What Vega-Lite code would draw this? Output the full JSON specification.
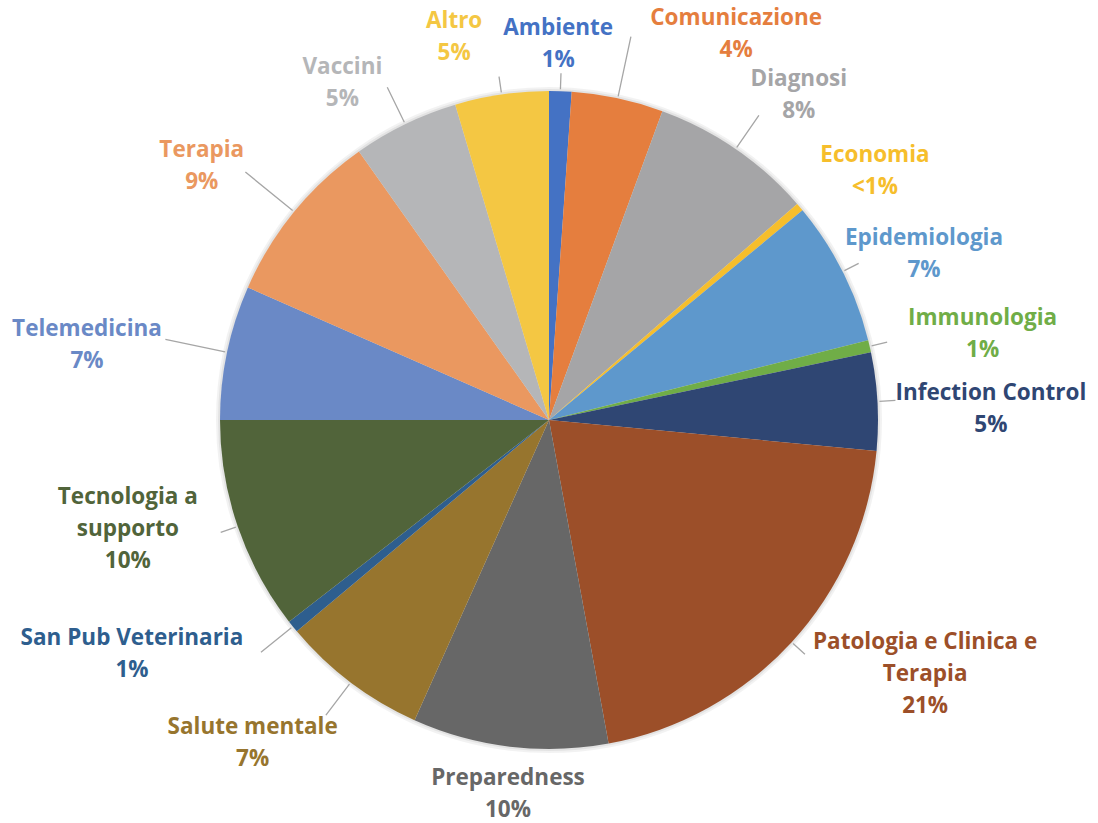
{
  "$schema": "https://vega.github.io/schema/vega-lite/v6.json",
  "width": 1098,
  "height": 806,
  "autosize": "none",
  "padding": {"top": 17, "bottom": 0, "left": 0, "right": 0},
  "background": "white",
  "config": {
    "view": {"stroke": null},
    "text": {"font": "Open Sans", "fontWeight": "bold", "fontSize": 22.5, "lineBreak": "\n", "lineHeight": 32, "align": "center", "baseline": "middle", "dy": -16}
  },
  "data": {
    "values": [
      {"rank": 1, "category": "Ambiente", "share": 1.1, "label": "Ambiente\n1%"},
      {"rank": 2, "category": "Comunicazione", "share": 4.5, "label": "Comunicazione\n4%"},
      {"rank": 3, "category": "Diagnosi", "share": 8.0, "label": "Diagnosi\n8%"},
      {"rank": 4, "category": "Economia", "share": 0.4, "label": "Economia\n<1%"},
      {"rank": 5, "category": "Epidemiologia", "share": 7.1, "label": "Epidemiologia\n7%"},
      {"rank": 6, "category": "Immunologia", "share": 0.6, "label": "Immunologia\n1%"},
      {"rank": 7, "category": "Infection Control", "share": 4.8, "label": "Infection Control\n5%"},
      {"rank": 8, "category": "Patologia e Clinica e Terapia", "share": 20.6, "label": "Patologia e Clinica e\nTerapia\n21%"},
      {"rank": 9, "category": "Preparedness", "share": 9.6, "label": "Preparedness\n10%"},
      {"rank": 10, "category": "Salute mentale", "share": 7.2, "label": "Salute mentale\n7%"},
      {"rank": 11, "category": "San Pub Veterinaria", "share": 0.6, "label": "San Pub Veterinaria\n1%"},
      {"rank": 12, "category": "Tecnologia a supporto", "share": 10.5, "label": "Tecnologia a\nsupporto\n10%"},
      {"rank": 13, "category": "Telemedicina", "share": 6.6, "label": "Telemedicina\n7%"},
      {"rank": 14, "category": "Terapia", "share": 8.6, "label": "Terapia\n9%"},
      {"rank": 15, "category": "Vaccini", "share": 5.2, "label": "Vaccini\n5%"},
      {"rank": 16, "category": "Altro", "share": 4.6, "label": "Altro\n5%"}
    ]
  },
  "encoding": {
    "theta": {"field": "share", "type": "quantitative", "stack": true},
    "order": {"field": "rank", "type": "quantitative"},
    "detail": {"field": "category", "type": "nominal"}
  },
  "layer": [
    {"mark": {"type": "arc", "outerRadius": 333, "fill": "#000000", "fillOpacity": 0.05}},
    {"mark": {"type": "arc", "outerRadius": 331, "fill": "#000000", "fillOpacity": 0.06}},
    {
      "mark": {"type": "arc", "outerRadius": 329},
      "encoding": {
        "color": {
          "field": "category",
          "type": "nominal",
          "legend": null,
          "scale": {
            "domain": ["Ambiente", "Comunicazione", "Diagnosi", "Economia", "Epidemiologia", "Immunologia", "Infection Control", "Patologia e Clinica e Terapia", "Preparedness", "Salute mentale", "San Pub Veterinaria", "Tecnologia a supporto", "Telemedicina", "Terapia", "Vaccini", "Altro"],
            "range": ["#4472C4", "#E57E3E", "#A5A5A7", "#F6BE2C", "#5E98CC", "#70AD47", "#2F4673", "#9C4F29", "#676767", "#97752E", "#2E5E8E", "#51643A", "#6A89C6", "#EA9860", "#B5B6B8", "#F4C743"]
          }
        }
      }
    },
    {
      "mark": {"type": "arc", "innerRadius": 331, "outerRadius": 347, "padAngle": 3, "stroke": "#A6A6A6", "strokeWidth": 1.3, "fill": "#FFFFFF", "fillOpacity": 0},
      "encoding": {"strokeOpacity": {"condition": {"test": {"field": "category", "oneOf": ["Ambiente", "Epidemiologia", "Immunologia", "Infection Control", "Patologia e Clinica e Terapia", "Altro", "Tecnologia a supporto"]}, "value": 1}, "value": 0}}
    },
    {
      "mark": {"type": "arc", "innerRadius": 331, "outerRadius": 370, "padAngle": 3, "stroke": "#A6A6A6", "strokeWidth": 1.3, "fill": "#FFFFFF", "fillOpacity": 0},
      "encoding": {"strokeOpacity": {"condition": {"test": {"field": "category", "oneOf": ["Diagnosi", "Vaccini", "San Pub Veterinaria", "Salute mentale"]}, "value": 1}, "value": 0}}
    },
    {
      "mark": {"type": "arc", "innerRadius": 331, "outerRadius": 392, "padAngle": 3, "stroke": "#A6A6A6", "strokeWidth": 1.3, "fill": "#FFFFFF", "fillOpacity": 0},
      "encoding": {"strokeOpacity": {"condition": {"test": {"field": "category", "oneOf": ["Terapia", "Telemedicina", "Comunicazione"]}, "value": 1}, "value": 0}}
    },
    {
      "mark": {"type": "text", "radius": 376, "thetaOffset": -0.01},
      "encoding": {
        "color": {"field": "category", "type": "nominal", "legend": null},
        "text": {"condition": {"test": {"field": "category", "oneOf": ["Ambiente", "Preparedness"]}, "field": "label"}, "value": ""}
      }
    },
    {
      "mark": {"type": "text", "radius": 410, "thetaOffset": 0.052},
      "encoding": {
        "color": {"field": "category", "type": "nominal", "legend": null},
        "text": {"condition": {"test": {"field": "category", "oneOf": ["Diagnosi", "Economia", "Epidemiologia"]}, "field": "label"}, "value": ""}
      }
    },
    {
      "mark": {"type": "text", "radius": 442, "thetaOffset": 0.031},
      "encoding": {
        "color": {"field": "category", "type": "nominal", "legend": null},
        "text": {"condition": {"test": {"field": "category", "oneOf": ["Immunologia", "Infection Control"]}, "field": "label"}, "value": ""}
      }
    },
    {
      "mark": {"type": "text", "radius": 438, "thetaOffset": 0.096},
      "encoding": {
        "color": {"field": "category", "type": "nominal", "legend": null},
        "text": {"condition": {"test": {"field": "category", "oneOf": ["Salute mentale"]}, "field": "label"}, "value": ""}
      }
    },
    {
      "mark": {"type": "text", "radius": 435, "thetaOffset": 0.077, "dy": -32},
      "encoding": {
        "color": {"field": "category", "type": "nominal", "legend": null},
        "text": {"condition": {"test": {"field": "category", "oneOf": ["Tecnologia a supporto"]}, "field": "label"}, "value": ""}
      }
    },
    {
      "mark": {"type": "text", "radius": 395, "thetaOffset": -0.098},
      "encoding": {
        "color": {"field": "category", "type": "nominal", "legend": null},
        "text": {"condition": {"test": {"field": "category", "oneOf": ["Vaccini", "Altro"]}, "field": "label"}, "value": ""}
      }
    },
    {
      "mark": {"type": "text", "radius": 430, "thetaOffset": -0.054},
      "encoding": {
        "color": {"field": "category", "type": "nominal", "legend": null},
        "text": {"condition": {"test": {"field": "category", "oneOf": ["Terapia"]}, "field": "label"}, "value": ""}
      }
    },
    {
      "mark": {"type": "text", "radius": 468, "thetaOffset": -0.047},
      "encoding": {
        "color": {"field": "category", "type": "nominal", "legend": null},
        "text": {"condition": {"test": {"field": "category", "oneOf": ["Telemedicina"]}, "field": "label"}, "value": ""}
      }
    },
    {
      "mark": {"type": "text", "radius": 429, "thetaOffset": 0.241},
      "encoding": {
        "color": {"field": "category", "type": "nominal", "legend": null},
        "text": {"condition": {"test": {"field": "category", "oneOf": ["Comunicazione"]}, "field": "label"}, "value": ""}
      }
    },
    {
      "mark": {"type": "text", "radius": 454, "thetaOffset": -0.147, "dy": -32},
      "encoding": {
        "color": {"field": "category", "type": "nominal", "legend": null},
        "text": {"condition": {"test": {"field": "category", "oneOf": ["Patologia e Clinica e Terapia"]}, "field": "label"}, "value": ""}
      }
    },
    {
      "mark": {"type": "text", "radius": 478, "thetaOffset": 0.168},
      "encoding": {
        "color": {"field": "category", "type": "nominal", "legend": null},
        "text": {"condition": {"test": {"field": "category", "oneOf": ["San Pub Veterinaria"]}, "field": "label"}, "value": ""}
      }
    }
  ]
}
